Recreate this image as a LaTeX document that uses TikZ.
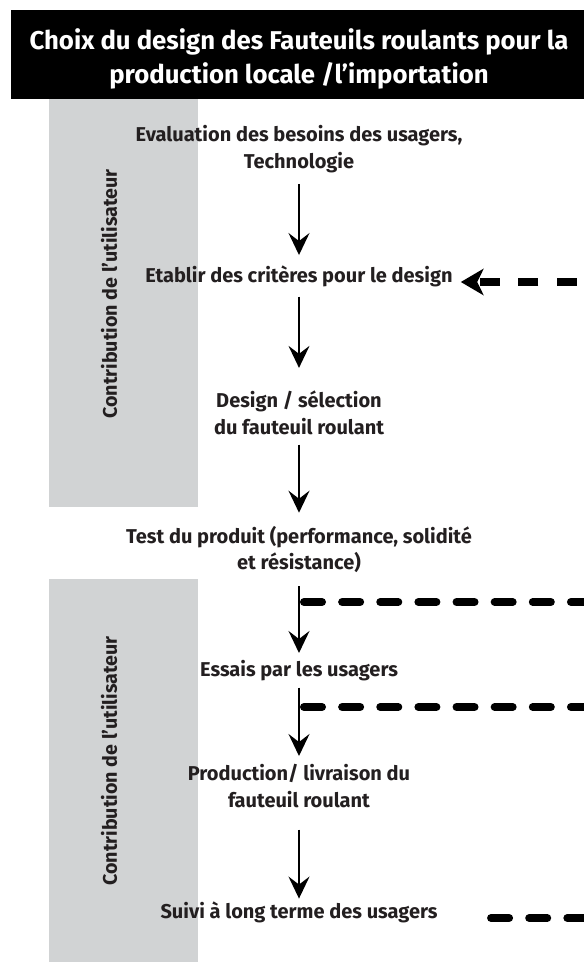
\documentclass[tikz,border=0pt]{standalone}
\usepackage{fontspec}
\setmainfont{Fira Sans}
\usepackage{xcolor}
\usetikzlibrary{arrows.meta}
\definecolor{encre}{HTML}{231F20}
\definecolor{grisbande}{HTML}{D1D3D4}
\tikzset{> = Stealth, color=encre}
\tikzset{
	etape/.style={font=\bfseries\fontsize{15}{19.8}\selectfont, align=center, inner sep=0pt},
	titre/.style={font=\bfseries\fontsize{19.3}{25.5}\selectfont, text=white, align=center, inner sep=0pt},
	bande/.style={font=\bfseries\fontsize{14.75}{16}\selectfont, inner sep=0pt},
	fleche/.style={line width=1.5pt, -{Stealth[length=16.5pt,width=15.75pt,inset=6pt]}},
	tirets/.style={line width=6pt, line cap=round, dash pattern=on 13.5pt off 15.1pt},
	retour/.style={line width=6pt, dash pattern=on 15pt off 13.9pt, -{Stealth[length=17.25pt,width=20.25pt,inset=5pt,line width=0pt]}}
}

\begin{document}
\begin{tikzpicture}[x=0.75pt,y=-0.75pt]
	\useasboundingbox (0,0) rectangle (584,962);
	% bandeau et bandes grises
	\fill (11,10) rectangle (584,99);
	\node[titre] (titre) at (299,59) {Choix du design des Fauteuils roulants pour la\\production locale /l’importation};
	\fill[grisbande] (49,99) rectangle (198,507);
	\fill[grisbande] (49,579) rectangle (198,962);
	\node[bande, rotate=90] (contrib1) at (109,294) {Contribution de l’utilisateur};
	\node[bande, rotate=90] (contrib2) at (109,761) {Contribution de l’utilisateur};
	% etapes
	\node[etape] (eval) at (299,149) {Evaluation des besoins des usagers,\\Technologie};
	\node[etape, anchor=base] (crit) at (299,282) {Etablir des critères pour le design};
	\node[etape] (design) at (299,413) {Design / sélection\\du fauteuil roulant};
	\node[etape] (test) at (299,549.5) {Test du produit (performance, solidité\\et résistance)};
	\node[etape, anchor=base] (essais) at (299,676) {Essais par les usagers};
	\node[etape] (prod) at (299,786) {Production/ livraison du\\fauteuil roulant};
	\node[etape, anchor=base] (suivi) at (299,918) {Suivi à long terme des usagers};
	% fleches
	\draw[fleche, shorten <=8.4pt, shorten >=7.5pt] (eval.south) -- (crit.north);
	\draw[fleche, shorten <=7.4pt, shorten >=17.35pt] (crit.south) -- (design.north);
	\draw[fleche, shorten <=7.2pt, shorten >=9.85pt] (design.south) -- (test.north);
	\draw[fleche, shorten <=9.9pt, shorten >=4.9pt] (test.south) -- (essais.north);
	\draw[fleche, shorten <=5.1pt, shorten >=6.15pt] (essais.south) -- (prod.north);
	\draw[fleche, shorten <=16.3pt, shorten >=1.85pt] (prod.south) -- (suivi.north);
	% retours en tirets
	\coordinate (ret0) at (615.5,282);
	\draw[retour, shorten >=6pt] (ret0) -- (crit.east |- ret0);
	\coordinate (emb1) at (300,602);
	\coordinate (bord1) at (600,602);
	\draw[tirets, shorten <=3pt] (emb1) -- (bord1);
	\coordinate (emb2) at (300,707);
	\coordinate (bord2) at (600,707);
	\draw[tirets, shorten <=3pt] (emb2) -- (bord2);
	\coordinate (bord3) at (620,918);
	\draw[tirets, shorten <=40pt] (suivi.east |- bord3) -- (bord3);
\end{tikzpicture}
\end{document}
